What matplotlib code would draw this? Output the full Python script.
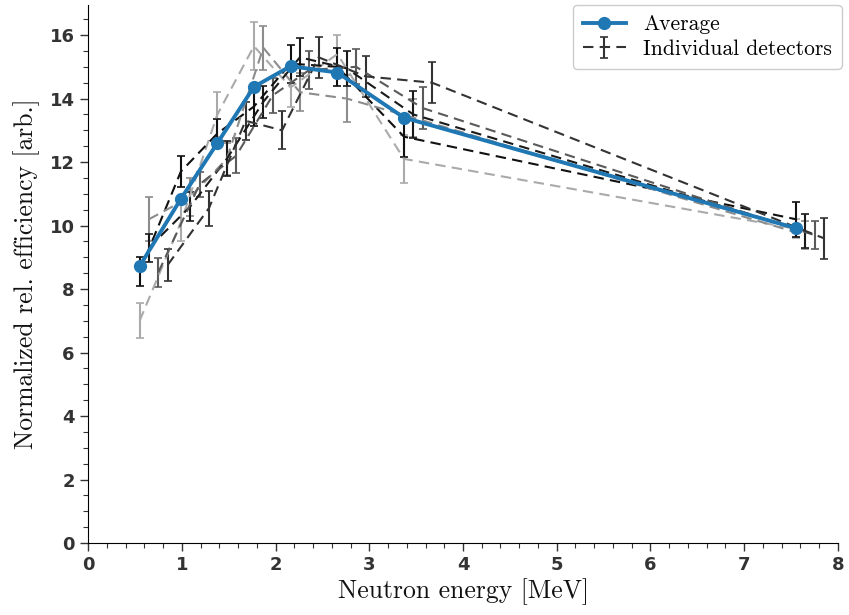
#!/usr/bin/env python3
# efficiency_vs_energy.py

import numpy as np
import matplotlib
matplotlib.use("Agg")
import matplotlib.pyplot as plt
from matplotlib.ticker import MultipleLocator

# average over detectors
avg_energy = [0.55, 0.99, 1.38, 1.77, 2.16, 2.66, 3.37, 7.55]
avg_eff = [8.72, 10.84, 12.60, 14.37, 15.02, 14.82, 13.40, 9.92]

# individual detectors (energy shift, colour, efficiency, error)
det_shift = [0.0, 0.0, 0.1, 0.1, 0.2, 0.3]
det_color = ["#aaaaaa", "#111111", "#8c8c8c", "#1a1a1a", "#5a5a5a", "#333333"]
det_eff = [
    [7.00, 10.10, 13.50, 15.65, 14.35, 15.40, 12.10, 9.90],
    [8.55, 11.70, 12.90, 13.75, 15.10, 15.00, 12.80, 10.20],
    [10.20, 10.90, 12.10, 15.60, 14.20, 14.00, 13.40, 9.70],
    [9.30, 10.60, 12.10, 13.90, 15.30, 14.95, 13.50, 9.83],
    [8.53, 11.30, 12.20, 14.10, 14.90, 15.00, 13.70, 9.70],
    [8.76, 10.55, 13.30, 13.00, 15.30, 14.70, 14.50, 9.60],
]
det_err = [
    [0.55, 0.60, 0.70, 0.75, 0.60, 0.60, 0.75, 0.30],
    [0.45, 0.50, 0.45, 0.60, 0.60, 0.60, 0.65, 0.55],
    [0.70, 0.60, 0.50, 0.70, 0.60, 0.75, 0.60, 0.45],
    [0.45, 0.45, 0.55, 0.50, 0.60, 0.55, 0.75, 0.55],
    [0.45, 0.40, 0.55, 0.55, 0.60, 0.55, 0.65, 0.45],
    [0.50, 0.55, 0.60, 0.60, 0.65, 0.65, 0.65, 0.65],
]

CM = ["cmr10", "DejaVu Serif"]


def plot(ax):
    for i in range(len(det_eff)):
        e = np.array(avg_energy) + det_shift[i]
        ax.errorbar(e, det_eff[i], yerr=det_err[i], color=det_color[i],
                    ls=(0, (5, 3)), lw=1.5, elinewidth=1.5, capsize=3,
                    capthick=1.2, zorder=2,
                    label="Individual detectors" if i == 5 else None)

    ax.plot(avg_energy, avg_eff, "o-", color="#1f77b4", lw=2.8, ms=8.5,
            zorder=3, label="Average")

    ax.set_xlim(0, 8)
    ax.set_ylim(0, 16.95)
    ax.xaxis.set_major_locator(MultipleLocator(1))
    ax.xaxis.set_minor_locator(MultipleLocator(0.2))
    ax.yaxis.set_major_locator(MultipleLocator(2))
    ax.yaxis.set_minor_locator(MultipleLocator(0.5))

    for s in ["top", "right"]:
        ax.spines[s].set_visible(False)
    ax.tick_params(which="major", direction="out", length=6, width=1,
                   labelsize=13, colors="#333333")
    ax.tick_params(which="minor", direction="out", length=3.5, width=0.8,
                   colors="#333333")
    for lab in ax.get_xticklabels() + ax.get_yticklabels():
        lab.set_fontweight("bold")
        lab.set_color("#333333")

    ax.set_xlabel("Neutron energy [MeV]", family=CM, fontsize=18.5,
                  labelpad=3, color="#111111")
    ax.set_ylabel("Normalized rel. efficiency [arb.]", family=CM,
                  fontsize=18.5, labelpad=7, color="#111111")

    h, l = ax.get_legend_handles_labels()
    order = [l.index("Average"), l.index("Individual detectors")]
    ax.legend([h[k] for k in order], [l[k] for k in order], loc="upper right",
              bbox_to_anchor=(1.005, 1.0),
              prop={"family": CM, "size": 15.5}, framealpha=1,
              edgecolor="#cccccc", borderaxespad=0.0, handlelength=2.0,
              borderpad=0.45, labelspacing=0.25)


def main():
    fig = plt.figure(figsize=(8.49, 6.15), dpi=100)
    ax = fig.add_axes([0.1037, 0.117, 0.8833, 0.875])
    plot(ax)
    fig.savefig("out.png", dpi=100)


if __name__ == "__main__":
    main()
